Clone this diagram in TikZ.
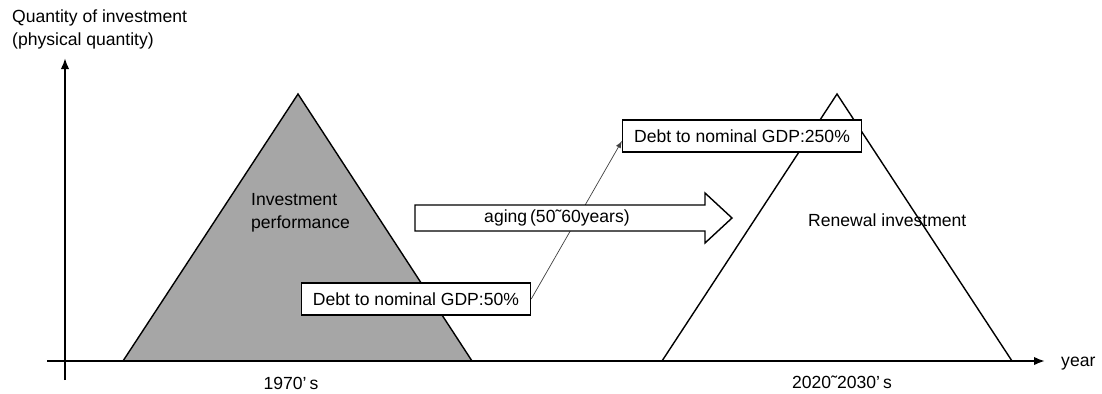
\documentclass[tikz,border=0pt]{standalone}
\usepackage{fontspec}
\setmainfont{Liberation Sans}
\usetikzlibrary{arrows}
\usetikzlibrary{arrows.meta}
\usetikzlibrary{positioning}
\definecolor{invgray}{RGB}{166,166,166}

\begin{document}
\begin{tikzpicture}[x=0.02cm,y=-0.02cm,font=\fontsize{10}{13}\selectfont,
  debtbox/.style={draw,fill=white,line width=0.8pt,inner xsep=0.23cm,minimum height=0.64cm},
  axis/.style={line width=1.1pt,-{Latex[length=0.22cm,width=0.17cm]}}]
  \useasboundingbox (0,0) rectangle (1102,393);
  \coordinate (ybot) at (65,380);
  \coordinate (ytop) at (65,58);
  \coordinate (xleft) at (47,361);
  \coordinate (xright) at (1045,361);
  % triangles
  \filldraw[fill=invgray,line width=0.8pt](123,361)--(298,94)--(472,361)--cycle;
  \draw[line width=0.8pt](662,361)--(837,94)--(1012,361);
  % axes
  \draw[axis](ybot)--(ytop);
  \draw[axis](xleft)--(xright);
  \node[anchor=north west,align=left] (qty) at (6,4) {Quantity of investment\\(physical quantity)};
  \node[anchor=west] (year) at (1055,364) {year};
  \node (y1970) at (291,383) {1970’\,s};
  \node (y2020) at (842,382) {2020˜2030’\,s};
  \node[anchor=west,align=left] (perf) at (245,213) {Investment\\performance};
  \node[anchor=west] (renew) at (802,220) {Renewal investment};
  % debt ratios
  \node[debtbox] (debt50) at (416,299) {Debt to nominal GDP:50\%};
  \node[debtbox] (debt250) at (742,136) {Debt to nominal GDP:250\%};
  \draw[-latex,line width=0.4pt,black!75](debt50.east)--([yshift=-0.1cm]debt250.west);
  % aging arrow
  \draw[line width=0.8pt,fill=white](415,205)--(705,205)--(705,193)--(732,218)--(705,243)--(705,231)--(415,231)--cycle;
  \node (aging) at (557,218) {aging\,(50˜60years)};
\end{tikzpicture}
\end{document}
